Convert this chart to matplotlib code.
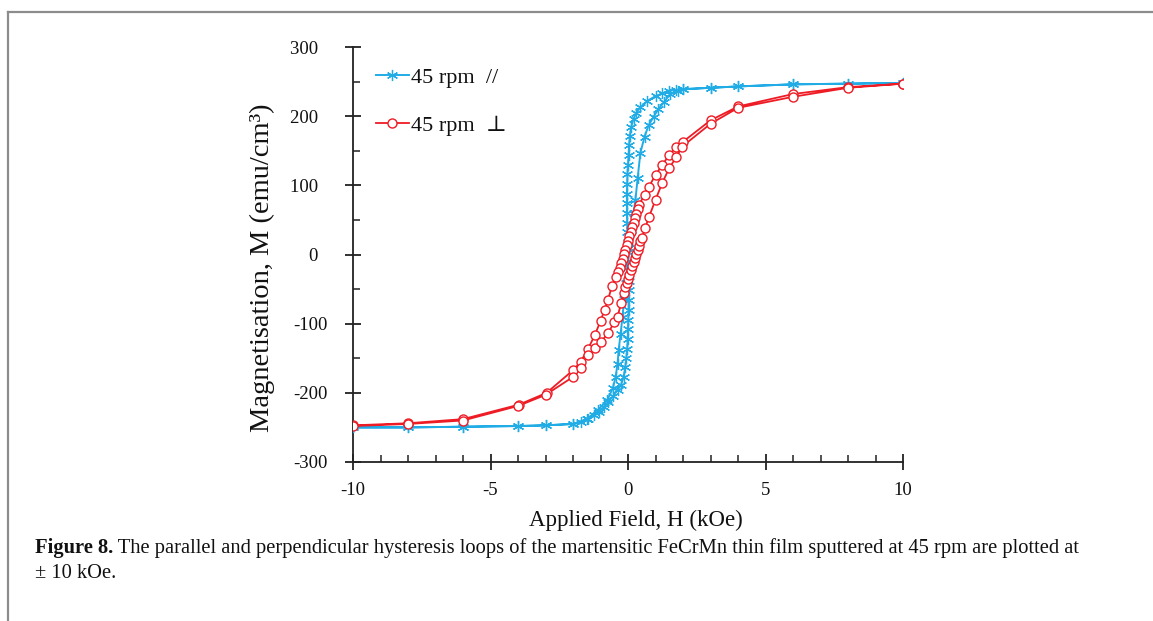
import matplotlib
matplotlib.use("Agg")
import matplotlib.pyplot as plt
from matplotlib.lines import Line2D
from matplotlib.ticker import MultipleLocator, FuncFormatter

# ---------------- data ----------------
# 45 rpm, in-plane (//): descending branch (+10 -> -10 kOe)
par_desc_H = [10, 8, 6, 4, 3, 2, 1.75, 1.5, 1.25, 1.0, 0.7, 0.45, 0.3, 0.2, 0.12,
              0.07, 0.04, 0.02, 0.0, -0.02, -0.03, -0.04, -0.04, -0.04, -0.03,
              -0.02, -0.01, 0.0, 0.01, 0.02, 0.02, 0.02, 0.02, 0.02, 0.01, 0.0,
              -0.01, -0.03, -0.06, -0.1, -0.16, -0.25, -0.38, -0.55, -0.71,
              -0.89, -1.05, -1.25, -1.47, -1.72, -2.0, -3, -4, -6, -8, -10]
par_desc_M = [248, 247, 246, 243, 241, 239, 238, 237, 233, 229, 222, 213, 205, 196,
              185, 172, 158, 144, 130, 116, 102, 88, 74, 60, 46, 32, 18, 4, -10,
              -24, -38, -52, -66, -80, -94, -108, -122, -136, -150, -163, -177,
              -188, -196, -205, -213, -221, -227, -232, -238, -242, -245, -247,
              -248, -249, -250, -250]
# 45 rpm, in-plane (//): ascending branch (-10 -> +10 kOe)
par_asc_H = [-10, -8, -6, -4, -3, -2, -1.5, -1.1, -0.75, -0.55, -0.45, -0.38, -0.34,
             -0.27, -0.2, -0.14, -0.09, -0.02, 0.05, 0.12, 0.2, 0.27, 0.35, 0.45,
             0.6, 0.75, 0.93, 1.1, 1.3, 1.54, 1.8, 2, 3, 4, 6, 8, 10]
par_asc_M = [-250, -250, -249, -248, -247, -245, -238, -225, -210, -193, -177,
             -158, -138, -115, -90, -65, -41, -15, 10, 35, 60, 79, 110, 147, 170,
             187, 199, 210, 220, 232, 237, 239, 241, 243, 246, 247, 248]

# 45 rpm, out-of-plane (perpendicular): descending branch
perp_desc_H = [10, 8, 6, 4, 3, 2, 1.76, 1.5, 1.24, 1.0, 0.76, 0.6, 0.4, 0.35, 0.3,
               0.25, 0.2, 0.15, 0.1, 0.05, 0.0, -0.05, -0.1, -0.15, -0.2, -0.25,
               -0.3, -0.35, -0.45, -0.58, -0.73, -0.85, -1.0, -1.2, -1.46, -1.72,
               -1.99, -2.96, -3.96, -6, -8, -10]
perp_desc_M = [247, 242, 232, 214, 194, 163, 156, 144, 129, 115, 98, 86, 72, 66, 59,
               53, 46, 40, 33, 27, 20, 14, 7, 1, -6, -12, -19, -25, -33, -45, -66,
               -80, -96, -116, -137, -155, -167, -200, -217, -238, -244, -247]
# 45 rpm, out-of-plane (perpendicular): ascending branch
perp_asc_H = [-10, -8, -6, -4, -3, -2, -1.72, -1.46, -1.2, -1.0, -0.73, -0.5, -0.38,
              -0.25, -0.15, -0.1, -0.05, 0.0, 0.05, 0.1, 0.15, 0.2, 0.25, 0.3, 0.35,
              0.4, 0.45, 0.51, 0.63, 0.76, 1.0, 1.24, 1.5, 1.76, 1.97, 3, 4, 6, 8, 10]
perp_asc_M = [-248, -245, -240, -219, -203, -177, -164, -146, -135, -127, -114, -98,
              -90, -70, -55, -47, -41, -35, -29, -23, -17, -11, -5, 1, 7, 13, 19, 24,
              39, 54, 79, 103, 125, 141, 156, 189, 212, 228, 241, 247]

series_labels = ["45 rpm  //", "45 rpm  \u22a5"]
x_label = "Applied Field, H (kOe)"
y_label = "Magnetisation, M (emu/cm\u00b3)"
caption_bold = "Figure 8."
caption_rest = ("The parallel and perpendicular hysteresis loops of the martensitic "
                "FeCrMn thin film sputtered at 45 rpm are plotted at")
caption_line2 = "\u00b1 10 kOe."

# ---------------- style ----------------
plt.rcParams["font.family"] = ["Liberation Serif", "DejaVu Serif", "DejaVu Sans"]
plt.rcParams["axes.unicode_minus"] = False

BLUE = "#22ACE6"
RED = "#EE1C25"
INK = "#111111"

W, H = 1153, 621
fig = plt.figure(figsize=(W / 100, H / 100), dpi=100)
ax = fig.add_axes([353 / W, 1 - 462 / H, (903 - 353) / W, (462 - 47) / H])

ast = (6, 2, 0)
ax.plot(par_desc_H + par_asc_H, par_desc_M + par_asc_M, color=BLUE, lw=1.4,
        marker=ast, ms=8, mew=0.9, label=series_labels[0], zorder=3)
ax.plot(perp_desc_H + perp_asc_H, perp_desc_M + perp_asc_M, color=RED, lw=1.3,
        marker="o", ms=6.5, mfc="white", mec=RED, mew=1.0,
        label=series_labels[1], zorder=4)

ax.set_xlim(-10, 10)
ax.set_ylim(-300, 300)
for s in ("top", "right"):
    ax.spines[s].set_visible(False)
for s in ("left", "bottom"):
    ax.spines[s].set_linewidth(1.3)
    ax.spines[s].set_color("#222222")

ax.xaxis.set_major_locator(MultipleLocator(5))
ax.xaxis.set_minor_locator(MultipleLocator(1))
ax.yaxis.set_major_locator(MultipleLocator(100))
ax.yaxis.set_minor_locator(MultipleLocator(50))
ax.tick_params(which="major", direction="inout", length=12, width=1.3,
               color="#222222", labelsize=13.5, labelcolor=INK)
ax.tick_params(axis="x", which="major", pad=8.5)
ax.tick_params(axis="y", which="major", pad=12.5)
ax.tick_params(which="minor", direction="in", length=5, width=1.1, color="#222222")


def yfmt(v, pos):
    v = int(round(v))
    return f"{v}" if v < 0 else f"{v}\u2002"


ax.yaxis.set_major_formatter(FuncFormatter(yfmt))
ax.xaxis.set_major_formatter(FuncFormatter(lambda v, p: f"{int(round(v))}"))

ax.set_xlabel(x_label, fontsize=16.5, color=INK)
ax.set_ylabel(y_label, fontsize=20.5, color=INK)
# label centres placed in figure pixels
ax.xaxis.set_label_coords((636 - 353) / (903 - 353), (462 - 520) / (462 - 47) - 0.0,
                          transform=ax.transAxes)
ax.xaxis.label.set_va("center")
ax.yaxis.set_label_coords((262 - 353) / (903 - 353), (462 - 268) / (462 - 47),
                          transform=ax.transAxes)
ax.yaxis.label.set_va("center")

leg = ax.legend(loc="upper left", bbox_to_anchor=(0.025, 0.973), frameon=False,
                fontsize=16, handlelength=1.5, handletextpad=0.1,
                labelspacing=1.25, borderaxespad=0)
for t in leg.get_texts():
    t.set_color(INK)

# page frame lines (left and top edge of the figure box)
fig.add_artist(Line2D([8 / W, 1.0], [1 - 12 / H, 1 - 12 / H], color="#8c8c8c",
                      lw=1.6, transform=fig.transFigure))
fig.add_artist(Line2D([8 / W, 8 / W], [1 - 12 / H, 0.0], color="#8c8c8c",
                      lw=1.6, transform=fig.transFigure))

# caption: fit to target width
fig.canvas.draw()
r = fig.canvas.get_renderer()
fs0 = 13.0
t1 = fig.text(35 / W, 1 - 548 / H, caption_bold, weight="bold", size=fs0,
              va="center", ha="left", color=INK)
t2 = fig.text(0, 1 - 548 / H, " " + caption_rest, size=fs0, va="center",
              ha="left", color=INK)
w1 = t1.get_window_extent(r).width
w2 = t2.get_window_extent(r).width
fs = fs0 * 1045 / (w1 + w2)
t1.set_size(fs)
t2.set_size(fs)
b1 = t1.get_window_extent(r)
t2.set_x(b1.x1 / W)
fig.text(35 / W, 1 - 574 / H, caption_line2, size=fs, va="center", ha="left",
         color=INK)

fig.savefig("out.png", dpi=100)
